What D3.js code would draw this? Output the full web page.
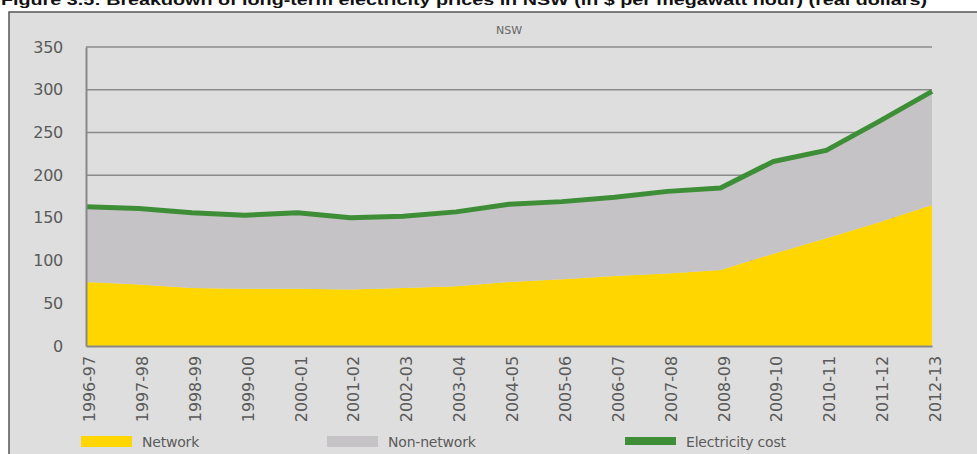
<!DOCTYPE html>
<html><head><meta charset="utf-8">
<script src="https://cdn.jsdelivr.net/npm/d3@7"></script>
<style>body{margin:0;background:#fff;} svg{display:block;}</style>
</head><body>
<svg id="c" width="977" height="454"></svg>
<script>
const categories = ["1996-97","1997-98","1998-99","1999-00","2000-01","2001-02","2002-03","2003-04","2004-05","2005-06","2006-07","2007-08","2008-09","2009-10","2010-11","2011-12","2012-13"];
const network = [75,72,68,67,67,66,68,70,75,78,82,85,89,108,126,145,165];
const nonNetwork = [88,89,88,86,89,84,84,87,91,91,92,96,96,108,103,118,133];
const electricityCost = [163,161,156,153,156,150,152,157,166,169,174,181,185,216,229,263,298];
const yTicks = [0,50,100,150,200,250,300,350];
const seriesNames = ["Network","Non-network","Electricity cost"];
const colors = {net:"#FFD600", non:"#C5C3C6", cost:"#3E8E37", bg:"#DEDEDE"};

(function(){
const svg = d3.select("#c");
svg.append("text").attr("x",1).attr("y",5).attr("font-family","Liberation Sans, Arial").attr("font-weight","bold")
  .attr("font-size",15).attr("fill","#111").attr("textLength",926).attr("lengthAdjust","spacingAndGlyphs")
  .text("Figure 3.5: Breakdown of long-term electricity prices in NSW (in $ per megawatt hour) (real dollars)");
svg.append("rect").attr("x",9).attr("y",12).attr("width",990).attr("height",460).attr("fill",colors.bg)
  .attr("stroke","#555").attr("stroke-width",1.5);

const pL=86, pR=932, pT=47, pB=346;
const x = d3.scalePoint().domain(categories).range([pL,pR]);
const y = d3.scaleLinear().domain([0,350]).range([pB,pT]);

svg.append("text").attr("x",509).attr("y",34).attr("text-anchor","middle").attr("font-family","DejaVu Sans")
  .attr("font-size",11).attr("fill","#666").text("NSW");

const g = svg.append("g");
g.selectAll("line.grid").data(yTicks.filter(d=>d>0)).join("line")
  .attr("x1",pL).attr("x2",pR).attr("y1",d=>y(d)).attr("y2",d=>y(d))
  .attr("stroke","#8a8a8a").attr("stroke-width",1.5);

const data = categories.map((c,i)=>({c, net:network[i], non:nonNetwork[i], cost:electricityCost[i]}));
const stack = d3.stack().keys(["net","non"])(data);
const area = d3.area().x(d=>x(d.data.c)).y0(d=>y(d[0])).y1(d=>y(d[1]));
g.selectAll("path.a").data(stack).join("path").attr("d",area)
  .attr("fill",(d,i)=>i===0?colors.net:colors.non);

g.append("path").datum(data).attr("fill","none").attr("stroke",colors.cost).attr("stroke-width",5)
  .attr("stroke-linejoin","round")
  .attr("d",d3.line().x(d=>x(d.c)).y(d=>y(d.cost)));

const yAxis = d3.axisLeft(y).tickValues(yTicks).tickSize(0).tickPadding(0);
const ya = svg.append("g").attr("transform",`translate(${pL},0)`).call(yAxis);
ya.select(".domain").attr("stroke","#888").attr("stroke-width",2);
ya.selectAll("text").attr("x",-23).attr("font-family","DejaVu Sans").attr("font-size",16).attr("fill","#5a5a5a").attr("letter-spacing","-0.3");

const xAxis = d3.axisBottom(x).tickSize(0).tickPadding(0);
const xa = svg.append("g").attr("transform",`translate(0,${pB})`).call(xAxis);
xa.select(".domain").attr("stroke","#888").attr("stroke-width",2);
xa.selectAll("text").attr("transform","rotate(-90)").attr("text-anchor","end")
  .attr("x",-10).attr("y",3).attr("dy","0.35em")
  .attr("font-family","DejaVu Sans").attr("font-size",16).attr("fill","#5a5a5a").attr("letter-spacing","-0.1");

const leg = [
  {name:seriesNames[0], color:colors.net, rx:81, ry:436, rh:11, tx:142},
  {name:seriesNames[1], color:colors.non, rx:327, ry:436, rh:11, tx:388},
  {name:seriesNames[2], color:colors.cost, rx:625, ry:437, rh:8, tx:686}
];
const lg = svg.append("g");
lg.selectAll("rect").data(leg).join("rect").attr("x",d=>d.rx).attr("y",d=>d.ry).attr("width",51).attr("height",d=>d.rh).attr("fill",d=>d.color);
lg.selectAll("text").data(leg).join("text").attr("x",d=>d.tx).attr("y",447).attr("font-family","DejaVu Sans")
  .attr("font-size",14).attr("fill","#5a5a5a").attr("letter-spacing","-0.2").text(d=>d.name);
})();
</script>
</body></html>
